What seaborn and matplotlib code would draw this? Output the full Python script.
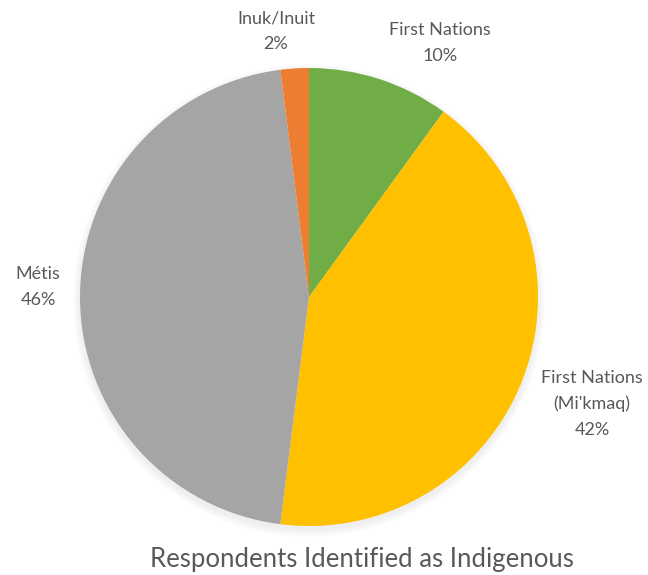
import matplotlib
matplotlib.use("Agg")
import matplotlib.pyplot as plt
from matplotlib.patches import Circle
import seaborn as sns

categories = ["First Nations", "First Nations\n(Mi'kmaq)", "Métis", "Inuk/Inuit"]
shares = [10, 42, 46, 2]
colors = ["#70AD47", "#FFC000", "#A5A5A5", "#ED7D31"]
title = "Respondents Identified as Indigenous"

sns.set_theme(style="white")
plt.rcParams["font.family"] = ["Lato", "DejaVu Sans"]
text_color = "#595959"

fig = plt.figure(figsize=(6.48, 5.75), dpi=100)
ax = fig.add_axes([80 / 648, 1 - 526 / 575, 458 / 648, 458 / 575])
ax.set_xlim(-1, 1)
ax.set_ylim(-1, 1)
ax.set_aspect("equal")
ax.axis("off")

# faint drop shadow under the pie
for i in range(8):
    ax.add_patch(Circle((0.0, -0.015), 1.0 + 0.004 * (8 - i), color="black",
                        alpha=0.008, lw=0, zorder=0, clip_on=False))

wedges, _ = ax.pie(shares, colors=sns.color_palette(colors), startangle=90,
                   counterclock=False, radius=1.0,
                   wedgeprops=dict(linewidth=0), frame=False)
for w in wedges:
    w.set_zorder(2)
ax.set_xlim(-1, 1)
ax.set_ylim(-1, 1)

label_pos = [(0.572, 1.109), (1.236, -0.467), (-1.183, 0.044), (-0.144, 1.162)]
for name, val, (x, y) in zip(categories, shares, label_pos):
    ax.text(x, y, f"{name}\n{val}%", ha="center", va="center", fontsize=13,
            color=text_color, linespacing=1.75, clip_on=False)

fig.text(362 / 648, 1 - 560 / 575, title, ha="center", va="center",
         fontsize=18.5, color=text_color)

fig.savefig("out.png", dpi=100, facecolor="white")
